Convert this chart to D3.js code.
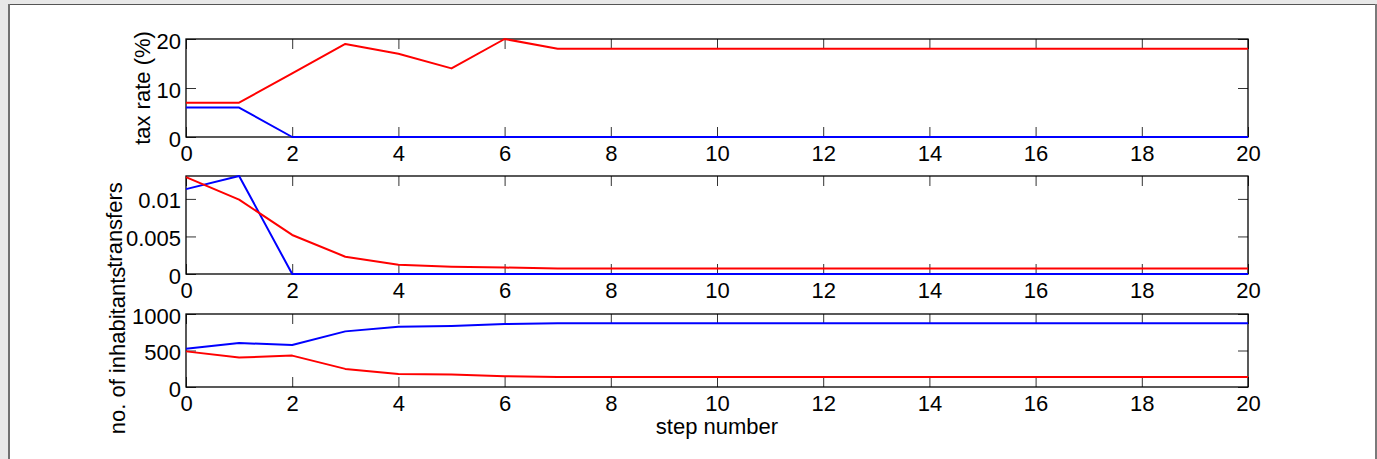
<!DOCTYPE html>
<html>
<head>
<meta charset="utf-8">
<script src="https://cdn.jsdelivr.net/npm/d3@7"></script>
<style>
  html, body { margin: 0; padding: 0; background: #e8e8e8; }
  svg { display: block; font-family: "Liberation Sans", Arial, Helvetica, sans-serif; }
</style>
</head>
<body>
<svg id="chart" width="1377" height="459"></svg>
<script>
// Simulation steps 0..20
const steps = d3.range(0, 21);

// Tax rate (%) per step
const taxRed  = [7, 7, 13, 19, 17, 14, 20, 18, 18, 18, 18, 18, 18, 18, 18, 18, 18, 18, 18, 18, 18];
const taxBlue = [6, 6, 0, 0, 0, 0, 0, 0, 0, 0, 0, 0, 0, 0, 0, 0, 0, 0, 0, 0, 0];

// Transfers per step
const transRed  = [0.0129, 0.0099, 0.0052, 0.0023, 0.00124, 0.00098, 0.00086, 0.00072, 0.00072, 0.00072,
                   0.00072, 0.00072, 0.00072, 0.00072, 0.00072, 0.00072, 0.00072, 0.00072, 0.00072, 0.00072, 0.00072];
const transBlue = [0.0113, 0.01305, 0, 0, 0, 0, 0, 0, 0, 0, 0, 0, 0, 0, 0, 0, 0, 0, 0, 0, 0];

// Number of inhabitants per step
const inhabBlue = [525, 602, 575, 762, 826, 836, 862, 872, 872, 872, 872, 872, 872, 872, 872, 872, 872, 872, 872, 872, 872];
const inhabRed  = [488, 403, 430, 248, 178, 172, 148, 136, 136, 136, 136, 136, 136, 136, 136, 136, 136, 136, 136, 136, 136];

// Tick values
const xTicks = d3.range(0, 21, 2);
const taxTicks = [0, 10, 20];
const transTicks = [0, 0.005, 0.01];
const inhabTicks = [0, 500, 1000];

const svg = d3.select("#chart");

// Figure panel
svg.append("rect").attr("x", 8).attr("y", 4).attr("width", 1369).attr("height", 460).attr("fill", "#fff");
svg.append("line").attr("x1", 8).attr("x2", 1377).attr("y1", 4.5).attr("y2", 4.5).attr("stroke", "#555").attr("stroke-width", 1);
svg.append("line").attr("x1", 9).attr("x2", 9).attr("y1", 4).attr("y2", 459).attr("stroke", "#707070").attr("stroke-width", 2);
svg.append("line").attr("x1", 1376).attr("x2", 1376).attr("y1", 4).attr("y2", 459).attr("stroke", "#7a7a7a").attr("stroke-width", 2);

const x = d3.scaleLinear().domain([0, 20]).range([186, 1248]);
const FONT = 22;

function panel(cfg) {
  const y = d3.scaleLinear().domain(cfg.domain).range([cfg.bottom, cfg.top]);
  const g = svg.append("g");

  // Inward ticks on all four sides
  const tickStyle = sel => {
    sel.select(".domain").remove();
    sel.selectAll(".tick line").attr("stroke", "#333").attr("stroke-width", 1);
    sel.selectAll("text").attr("fill", "#000").style("font-size", FONT + "px").attr("font-family", null);
  };

  g.append("g").attr("transform", `translate(0,${cfg.bottom})`)
    .call(d3.axisBottom(x).tickValues(xTicks).tickSize(-10).tickPadding(8).tickFormat(d3.format("d")))
    .call(tickStyle);
  g.append("g").attr("transform", `translate(0,${cfg.top})`)
    .call(d3.axisTop(x).tickValues(xTicks).tickSize(-10).tickFormat(""))
    .call(tickStyle);
  g.append("g").attr("transform", `translate(${x.range()[0]},0)`)
    .call(d3.axisLeft(y).tickValues(cfg.ticks).tickSize(-10).tickPadding(5).tickFormat(cfg.fmt))
    .call(tickStyle)
    .selectAll("text").attr("dy", "0.41em");
  g.append("g").attr("transform", `translate(${x.range()[1]},0)`)
    .call(d3.axisRight(y).tickValues(cfg.ticks).tickSize(-10).tickFormat(""))
    .call(tickStyle);

  // Axes box
  g.append("rect")
    .attr("x", x.range()[0]).attr("y", cfg.top)
    .attr("width", x.range()[1] - x.range()[0]).attr("height", cfg.bottom - cfg.top)
    .attr("fill", "none").attr("stroke", "#000").attr("stroke-width", 1.3);

  // Data lines
  const line = d3.line().x((d, i) => x(steps[i])).y(d => y(d));
  cfg.series.forEach(s => {
    g.append("path").datum(s.values)
      .attr("d", line).attr("fill", "none")
      .attr("stroke", s.color).attr("stroke-width", 2).attr("stroke-linejoin", "round");
  });

  // Y label
  g.append("text")
    .attr("transform", `translate(${cfg.labelX},${(cfg.top + cfg.bottom) / 2}) rotate(-90)`)
    .attr("text-anchor", "middle")
    .style("font-size", FONT + "px")
    .text(cfg.label);
}

panel({
  top: 39, bottom: 137, domain: [0, 20], ticks: taxTicks, fmt: d3.format("d"),
  label: "tax rate (%)", labelX: 150,
  series: [{ values: taxBlue, color: "#0000ff" }, { values: taxRed, color: "#ff0000" }]
});

panel({
  top: 176, bottom: 274, domain: [0, 0.01305], ticks: transTicks, fmt: d => d === 0 ? "0" : String(d),
  label: "transfers", labelX: 122,
  series: [{ values: transBlue, color: "#0000ff" }, { values: transRed, color: "#ff0000" }]
});

panel({
  top: 314, bottom: 387, domain: [0, 1000], ticks: inhabTicks, fmt: d3.format("d"),
  label: "no. of inhabitants", labelX: 125,
  series: [{ values: inhabBlue, color: "#0000ff" }, { values: inhabRed, color: "#ff0000" }]
});

// X label
svg.append("text")
  .attr("x", (x.range()[0] + x.range()[1]) / 2)
  .attr("y", 434)
  .attr("text-anchor", "middle")
  .style("font-size", FONT + "px")
  .text("step number");
</script>
</body>
</html>
